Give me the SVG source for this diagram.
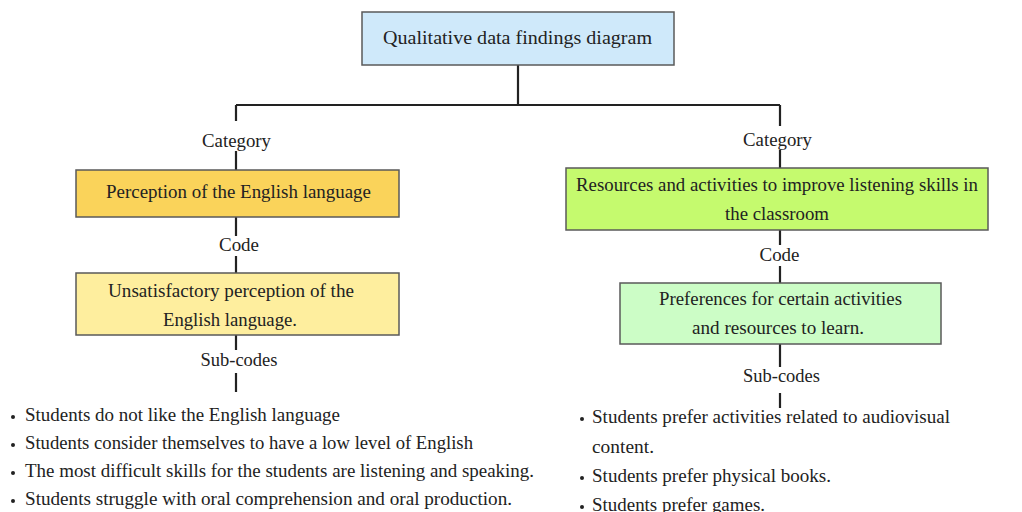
<svg xmlns="http://www.w3.org/2000/svg" width="1022" height="512" viewBox="0 0 1022 512">
<style>
text{font-family:"Liberation Serif","DejaVu Serif",serif;font-size:19px;fill:#222;}
.c{text-anchor:middle;}
.box{stroke:#5a5a5a;stroke-width:1.5;}
.ln{stroke:#222;stroke-width:2.2;fill:none;}
.dot{fill:#222;}
</style>
<rect width="1022" height="512" fill="#fff"/>
<g id="connectors">
<path class="ln" d="M518 65V105M236 105H780M236 105V121M780 105V126"/>
<path class="ln" d="M236 151V170M236 217V236M236 256V273M236 335V350M236 373V392"/>
<path class="ln" d="M780 150V168M780 230V245M780 266V283M780 344V367M780 393V408"/>
</g>
<g id="root"><rect class="box" x="362" y="12" width="312" height="53" fill="#cfe9fa"/><text class="c" x="517.5" y="44" textLength="269" lengthAdjust="spacingAndGlyphs">Qualitative data findings diagram</text></g>
<g id="cat-left-label"><text class="c" x="236.5" y="147" textLength="69" lengthAdjust="spacingAndGlyphs">Category</text></g>
<g id="cat-left"><rect class="box" x="76" y="170" width="323" height="47" fill="#fad35a"/><text class="c" x="238.5" y="198" textLength="265" lengthAdjust="spacingAndGlyphs">Perception of the English language</text></g>
<g id="code-left-label"><text class="c" x="239" y="251" textLength="40" lengthAdjust="spacingAndGlyphs">Code</text></g>
<g id="code-left"><rect class="box" x="76" y="273" width="323" height="62" fill="#feee9e"/><text class="c" x="231" y="297" textLength="246" lengthAdjust="spacingAndGlyphs">Unsatisfactory perception of the</text><text class="c" x="230" y="326" textLength="134" lengthAdjust="spacingAndGlyphs">English language.</text></g>
<g id="sub-left-label"><text class="c" x="239" y="366" textLength="77" lengthAdjust="spacingAndGlyphs">Sub-codes</text></g>
<g id="sub-left">
<circle class="dot" cx="13" cy="417" r="2"/><text x="25" y="421" textLength="315" lengthAdjust="spacingAndGlyphs">Students do not like the English language</text>
<circle class="dot" cx="13" cy="445" r="2"/><text x="25" y="449" textLength="448" lengthAdjust="spacingAndGlyphs">Students consider themselves to have a low level of English</text>
<circle class="dot" cx="13" cy="473" r="2"/><text x="25" y="477" textLength="509" lengthAdjust="spacingAndGlyphs">The most difficult skills for the students are listening and speaking.</text>
<circle class="dot" cx="13" cy="501" r="2"/><text x="25" y="505" textLength="487" lengthAdjust="spacingAndGlyphs">Students struggle with oral comprehension and oral production.</text>
</g>
<g id="cat-right-label"><text class="c" x="777.5" y="146" textLength="69" lengthAdjust="spacingAndGlyphs">Category</text></g>
<g id="cat-right"><rect class="box" x="566" y="168" width="422" height="62" fill="#c5fa6e"/><text class="c" x="777" y="191" textLength="402" lengthAdjust="spacingAndGlyphs">Resources and activities to improve listening skills in</text><text class="c" x="777" y="220" textLength="104" lengthAdjust="spacingAndGlyphs">the classroom</text></g>
<g id="code-right-label"><text class="c" x="779.5" y="261" textLength="40" lengthAdjust="spacingAndGlyphs">Code</text></g>
<g id="code-right"><rect class="box" x="620" y="283" width="321" height="61" fill="#ccfdc6"/><text class="c" x="780.5" y="305" textLength="243" lengthAdjust="spacingAndGlyphs">Preferences for certain activities</text><text class="c" x="778" y="334" textLength="172" lengthAdjust="spacingAndGlyphs">and resources to learn.</text></g>
<g id="sub-right-label"><text class="c" x="781.5" y="382" textLength="77" lengthAdjust="spacingAndGlyphs">Sub-codes</text></g>
<g id="sub-right">
<circle class="dot" cx="582" cy="419" r="2"/><text x="592" y="423" textLength="358" lengthAdjust="spacingAndGlyphs">Students prefer activities related to audiovisual</text>
<text x="592" y="453" textLength="62" lengthAdjust="spacingAndGlyphs">content.</text>
<circle class="dot" cx="582" cy="478" r="2"/><text x="592" y="482" textLength="239" lengthAdjust="spacingAndGlyphs">Students prefer physical books.</text>
<circle class="dot" cx="582" cy="507" r="2"/><text x="592" y="511" textLength="173" lengthAdjust="spacingAndGlyphs">Students prefer games.</text>
</g>
</svg>
